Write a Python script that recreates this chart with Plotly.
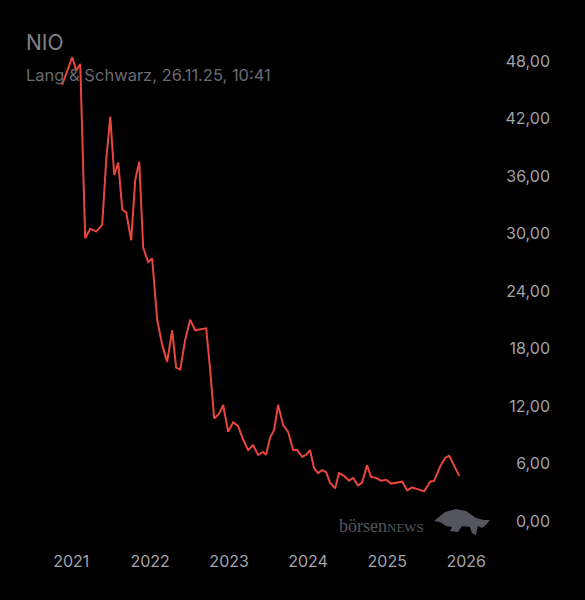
import plotly.graph_objects as go
import pandas as pd

years = [2020.886, 2021.013, 2021.063, 2021.114, 2021.177, 2021.241, 2021.316, 2021.392,
         2021.443, 2021.494, 2021.544, 2021.595, 2021.646, 2021.696, 2021.759, 2021.810,
         2021.861, 2021.911, 2021.975, 2022.025, 2022.089, 2022.152, 2022.215, 2022.278,
         2022.329, 2022.380, 2022.443, 2022.506, 2022.570, 2022.709, 2022.759, 2022.810,
         2022.873, 2022.924, 2022.987, 2023.051, 2023.114, 2023.177, 2023.241, 2023.304,
         2023.367, 2023.430, 2023.468, 2023.519, 2023.570, 2023.620, 2023.684, 2023.747,
         2023.810, 2023.861, 2023.924, 2023.975, 2024.025, 2024.076, 2024.127, 2024.177,
         2024.228, 2024.278, 2024.342, 2024.392, 2024.456, 2024.519, 2024.570, 2024.633,
         2024.684, 2024.747, 2024.797, 2024.861, 2024.924, 2024.987, 2025.051, 2025.114,
         2025.190, 2025.253, 2025.316, 2025.392, 2025.468, 2025.544, 2025.595, 2025.671,
         2025.734, 2025.785, 2025.848, 2025.911]
prices = [45.5, 48.4, 47.0, 47.7, 29.5, 30.5, 30.2, 30.9, 37.7, 42.2, 36.1, 37.4, 32.5,
          32.2, 29.3, 35.6, 37.5, 28.5, 27.0, 27.4, 21.0, 18.4, 16.6, 19.9, 16.0, 15.8,
          18.9, 21.0, 19.9, 20.1, 15.8, 10.7, 11.2, 12.1, 9.3, 10.3, 9.9, 8.5, 7.4, 7.9,
          6.9, 7.2, 6.9, 8.7, 9.5, 12.1, 10.0, 9.3, 7.4, 7.4, 6.7, 6.9, 7.4, 5.5, 5.0,
          5.3, 5.1, 4.0, 3.4, 5.0, 4.7, 4.2, 4.5, 3.7, 4.0, 5.8, 4.6, 4.5, 4.2, 4.3,
          3.9, 4.0, 4.1, 3.2, 3.5, 3.3, 3.1, 4.1, 4.2, 5.7, 6.6, 6.8, 5.7, 4.7]
y_ticks = [0, 6, 12, 18, 24, 30, 36, 42, 48]

W, H = 585, 600
L, R, T, B = 30, 32, 20, 50


def to_date(y):
    start = pd.Timestamp(year=int(y), month=1, day=1)
    return start + pd.Timedelta(days=(y - int(y)) * 365.25)


def px(x):
    return (x - L) / (W - L - R)


def py(y):
    return 1 - (y - T) / (H - T - B)


dates = [to_date(y) for y in years]

fig = go.Figure(go.Scatter(x=dates, y=prices, mode="lines",
                           line=dict(color="#e8453c", width=2), hoverinfo="skip"))

grey = "#a2a2aa"
fig.update_layout(
    width=W, height=H,
    paper_bgcolor="black", plot_bgcolor="black",
    margin=dict(l=L, r=R, t=T, b=B),
    separators=",.",
    showlegend=False,
    font=dict(family="Inter", color=grey, size=16),
    xaxis=dict(range=[to_date(2020.48), to_date(2027.1)], showgrid=False, zeroline=False,
               tickvals=[pd.Timestamp(f"{y}-01-01") for y in range(2021, 2027)],
               ticktext=[str(y) for y in range(2021, 2027)], ticks="", showline=False,
               tickfont=dict(color=grey, size=16)),
    yaxis=dict(range=[-3.03, 52.28], side="right", ticklabelposition="inside",
               tickvals=y_ticks, tickformat=".2f", showgrid=False, zeroline=False,
               ticks="", showline=False, tickfont=dict(color=grey, size=16)),
    annotations=[
        dict(text="NIO", x=px(24), y=py(42), showarrow=False,
             xanchor="left", yanchor="middle", font=dict(size=21, color="#80808a")),
        dict(text="Lang & Schwarz, 26.11.25, 10:41", x=px(24), y=py(75), showarrow=False,
             xanchor="left", yanchor="middle", font=dict(size=16.5, color="#6a6a73")),
        dict(text="börsen<span style='font-size:13px'>NEWS</span>", x=px(337), y=py(526),
             showarrow=False, xanchor="left", yanchor="middle",
             font=dict(family="Liberation Serif", size=18, color="#55555f")),
    ],
)
for a in fig.layout.annotations:
    a.xref = "paper"
    a.yref = "paper"

# rough bull silhouette next to the logo text
bull = [(434, 521), (445, 512), (456, 509), (466, 511), (476, 518), (484, 520),
        (490, 520), (486, 525), (482, 528), (478, 526), (476, 535), (472, 533),
        (470, 527), (462, 526), (458, 532), (450, 531), (452, 527), (446, 526),
        (440, 522)]
path = "M " + " L ".join(f"{px(x):.4f},{py(y):.4f}" for x, y in bull) + " Z"
fig.add_shape(type="path", path=path, xref="paper", yref="paper",
              fillcolor="#55555f", line=dict(width=0))

fig.write_html("out.html", config={"displayModeBar": False},
               post_script="document.body.style.margin='0';"
               "document.body.style.background='black';")
